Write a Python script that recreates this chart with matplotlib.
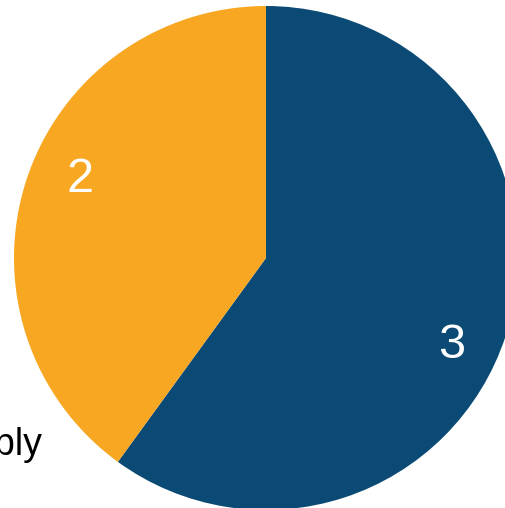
import matplotlib
matplotlib.use('Agg')
import matplotlib.pyplot as plt
import numpy as np

plt.rcParams['font.family'] = ['Liberation Sans', 'DejaVu Sans']

# 数据
labels = ['3', '2']
values = [3, 2]
colors = ['#0b4a74', '#f8a723']
legend_text = 'Reply'

fig = plt.figure(figsize=(5.05, 5.08), dpi=100)
ax = fig.add_axes([0, 0, 1, 1])

wedges, _ = ax.pie(values, colors=colors, startangle=90, counterclock=False,
                   radius=1, center=(0, 0),
                   wedgeprops=dict(linewidth=0))

# 标签放在各扇区内 (字形中心约在 0.81 半径处)
total = sum(values)
start = 90.0
for val, lab in zip(values, labels):
    sweep = 360.0 * val / total
    mid = np.deg2rad(start - sweep / 2 - 6)
    start -= sweep
    ax.text(0.808 * np.cos(mid), 0.808 * np.sin(mid) - 0.067, lab,
            color='white', fontsize=35, ha='center', va='baseline')

# 坐标范围: 中心约在 (266, 258) 像素, 半径约 252 像素
s = 252.0
ax.set_xlim(-266 / s, (505 - 266) / s)
ax.set_ylim(-(508 - 258) / s, 258 / s)
ax.set_aspect('auto')
ax.axis('off')

# 被截断的图例文字 (参考图中只露出 "ply")
fig.text(43 / 505, 1 - 455 / 508, legend_text, fontsize=27, ha='right',
         va='baseline', color='black')

plt.savefig('out.png', dpi=100)
plt.close(fig)
